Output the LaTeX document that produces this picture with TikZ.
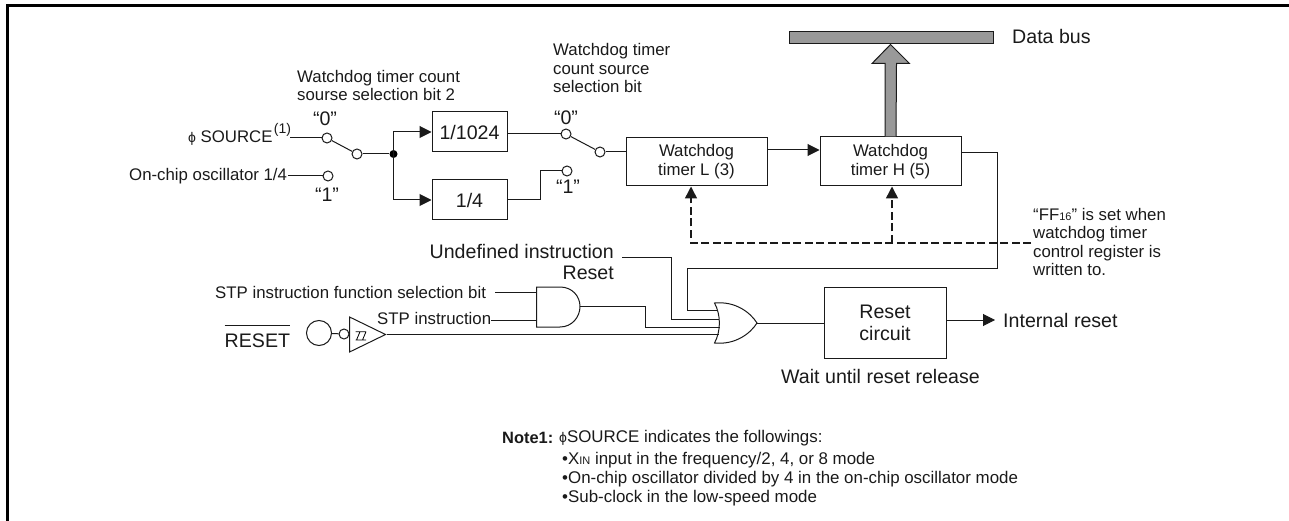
\documentclass[tikz,border=0pt]{standalone}
\usepackage{fontspec}
\setmainfont{Liberation Sans}
\usetikzlibrary{positioning, arrows.meta, shapes.geometric}
\definecolor{clrline}{HTML}{1A1A1A}
\definecolor{clrbus}{HTML}{999999}
\begin{document}
\begin{tikzpicture}[
    x=1pt, y=-1pt,
    >={Triangle[length=12pt, width=12pt]},
    every node/.style={text=clrline, inner sep=0},
    lblsmall/.style={font=\fontsize{16.8}{19}\selectfont, align=left},
    lblbig/.style={font=\fontsize{19.6}{22}\selectfont, align=center},
    lblnote/.style={font=\fontsize{16.9}{19}\selectfont, align=left},
    block/.style={draw=clrline, fill=white, line width=1pt, lblsmall, align=center},
    contact/.style={circle, draw=clrline, fill=white, line width=1pt, minimum size=10pt},
    wire/.style={draw=clrline, line width=1pt},
    arrow/.style={->, wire},
    dasharrow/.style={->, draw=clrline, line width=1.5pt, dash pattern=on 8pt off 3.5pt},
    busfill/.style={draw=clrline, fill=clrbus, line width=1pt},
]
\useasboundingbox (0,0) rectangle (1289,521);
\draw[line width=3pt, color=black] (7.5,521) -- (7.5,5.5) -- (1289,5.5);
% count source selection
\node[lblsmall, anchor=west] (n_src) at (188,138) {{\fontsize{14}{16}\selectfont ϕ} SOURCE};
\node[anchor=south west, font=\fontsize{14}{16}\selectfont, xshift=1pt, yshift=-6pt] (n_src_sup) at (n_src.north east) {(1)};
\node[lblsmall, anchor=west] (n_osc) at (129,176) {On-chip oscillator 1/4};
\node[lblsmall, anchor=west] (n_sel2) at (297,85.5) {Watchdog timer count\\[-0.5pt]sourse selection bit 2};
\node[contact] (c_a0) at (327,138) {};
\node[contact] (c_a1) at (328,176) {};
\node[contact] (c_a) at (357,154) {};
\node[lblbig] (n_a0) at (325,119) {“0”};
\node[lblbig] (n_a1) at (327,195) {“1”};
\node[circle, fill=black, minimum size=8pt] (d_split) at (393.5,154) {};
\node[block, lblbig, minimum width=75pt, minimum height=40pt] (n_1024) at (469.5,132) {1/1024};
\node[block, lblbig, minimum width=75pt, minimum height=40pt] (n_4) at (469.5,200) {1/4};
\node[contact] (c_b0) at (566,134) {};
\node[contact] (c_b1) at (567,171) {};
\node[contact] (c_b) at (600,152) {};
\node[lblbig] (n_b0) at (566,118) {“0”};
\node[lblbig] (n_b1) at (568,187) {“1”};
\node[lblsmall, anchor=west] (n_sel) at (553,68) {Watchdog timer\\[-0.5pt]count source\\[-0.5pt]selection bit};
% timers and bus
\node[block, minimum width=141pt, minimum height=48pt] (n_wdl) at (696.5,162) {Watchdog\\timer L (3)};
\node[block, minimum width=141pt, minimum height=49pt] (n_wdh) at (890.5,161.5) {Watchdog\\timer H (5)};
\node[draw=clrline, fill=clrbus, line width=1pt, minimum width=204pt, minimum height=12pt] (n_bus) at (891,38) {};
\node[lblbig, anchor=west] (n_data) at (1012,36) {Data bus};
\node[lblsmall, anchor=west] (n_ff) at (1033,242) {“FF{\fontsize{11}{12}\selectfont 16}” is set when\\[-0.5pt]watchdog timer\\[-0.5pt]control register is\\[-0.5pt]written to.};
% reset logic
\node[lblbig, anchor=east] (n_undef) at (614,251) {Undefined instruction};
\node[lblbig, anchor=east] (n_rst) at (614,273) {Reset};
\node[lblsmall, anchor=west] (n_stpbit) at (215,292) {STP instruction function selection bit};
\node[lblsmall, anchor=west] (n_stp) at (377,318) {STP instruction};
\node[lblbig, anchor=west] (n_reset) at (224.5,341) {RESET};
\draw[wire] ([yshift=8pt]n_reset.north west) -- ([yshift=8pt]n_reset.north east);
\node[circle, draw=clrline, line width=1pt, minimum size=25pt] (c_pad) at (319,333) {};
\node[circle, draw=clrline, line width=1pt, minimum size=10pt] (c_inv) at (344,334) {};
\node[draw=clrline, line width=1pt, isosceles triangle, isosceles triangle stretches, shape border rotate=0, minimum width=35pt, minimum height=36pt] (g_buf) at (360.5,334.5) {};
\draw[line width=0.8pt] (355.5,331.7) -- (366,331.7) (355.5,340) -- (366,340) (360,331.7) -- (356.5,340) (366,331.7) -- (362.5,340);
\draw[wire] (560,287) -- (536.5,287) -- (536.5,327) -- (560,327) .. controls (572,327) and (580,317) .. (580,306.5) .. controls (580,296) and (572,287) .. (560,287);
\coordinate (g_and) at (580,306);
\draw[wire] (714.5,303) .. controls (735,301) and (750,312) .. (757,323) .. controls (750,334) and (735,345) .. (714.5,343) .. controls (721,331) and (721,315) .. cycle;
\coordinate (g_or) at (757,323);
\node[block, lblbig, minimum width=122pt, minimum height=71pt, inner sep=0] (n_rcirc) at (885,322.5) {Reset\\circuit};
\node[lblbig, anchor=west] (n_int) at (1003,320) {Internal reset};
\node[lblbig] (n_wait) at (880.5,376) {Wait until reset release};
% note
\node[anchor=west, font=\fontsize{16.4}{19}\bfseries\selectfont] (n_note) at (502,438) {Note1:};
\node[lblnote, anchor=west] (n_note_a) at (559,438) {{\fontsize{14}{16}\selectfont ϕ}SOURCE indicates the followings:};
\node[lblnote, anchor=west] (n_note_b) at (562,460) {•X{\fontsize{11}{12}\selectfont IN} input in the frequency/2, 4, or 8 mode};
\node[lblnote, anchor=west] (n_note_c) at (562,479) {•On-chip oscillator divided by 4 in the on-chip oscillator mode};
\node[lblnote, anchor=west] (n_note_d) at (562,498) {•Sub-clock in the low-speed mode};
% connectors
\coordinate (p_or1) at (718,310);
\coordinate (p_or2) at (719,319);
\coordinate (p_or3) at (720,327);
\coordinate (p_or4) at (719,334.5);
\coordinate (p_dash) at (1031,243);
\coordinate (p_int) at (995,320);
\coordinate (p_undef) at (622,257);
\coordinate (p_stpbit) at (495,292);
\coordinate (p_src) at (290,138);
\coordinate (p_and) at (536.5,306);
\draw[wire] (p_src) -- (c_a0.west);
\draw[wire] (n_osc.east) ++ (1pt,0) -- (c_a1.west);
\draw[wire] (c_a0) -- (c_a);
\draw[wire] (c_a) -- (d_split);
\draw[arrow] (d_split.center) |- (n_1024.west);
\draw[arrow] (d_split.center) |- (n_4.west);
\draw[wire] ([yshift=-2pt]n_1024.east) -- (c_b0.west);
\draw[wire] (n_4.east) -- ++(33,0) |- (c_b1.west);
\draw[wire] (c_b0) -- (c_b);
\draw[wire] (c_b) -- (n_wdl.west |- c_b);
\draw[arrow] ([yshift=12pt]n_wdl.east) -- ([yshift=11.5pt]n_wdh.west);
\draw[busfill] ([xshift=-5.5pt]n_wdh.north) -- ++(0,-73) -- ++(-13,0) -- (n_wdh.north |- n_bus.south) -- ++(19,19) -- ++(-13,0) -- ([xshift=5.5pt]n_wdh.north);
\draw[wire] ([yshift=8.5pt]n_wdh.east) -- ++(36,0) |- (687,268) |- (p_or1);
\draw[wire] (p_undef) -- ++(49,0) |- (p_or2);
\draw[wire] (g_and) -- ++(65,0) |- (p_or3);
\draw[wire] (g_buf.east) -- (p_or4);
\draw[wire] (c_pad) -- (c_inv);
\draw[wire] (p_stpbit) -- (p_and |- p_stpbit);
\draw[wire] ([yshift=-2pt]n_stp.east) -- ([yshift=-2pt]p_and |- n_stp.east);
\draw[wire] (g_or) -- (n_rcirc.west |- g_or);
\draw[arrow] ([yshift=2.5pt]n_rcirc.east) -- (p_int);
\draw[dasharrow] (p_dash) -| ([xshift=-5.5pt]n_wdl.south);
\draw[dasharrow] ([xshift=1.5pt]n_wdh.south |- p_dash) -- ([xshift=1.5pt]n_wdh.south);
\end{tikzpicture}
\end{document}
